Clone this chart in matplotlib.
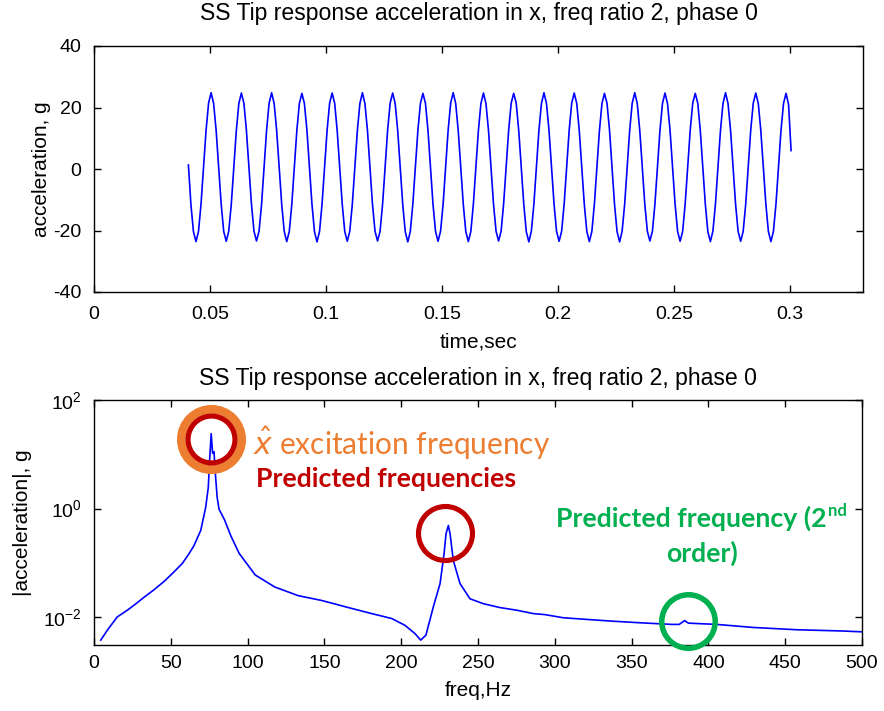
import numpy as np
import matplotlib
matplotlib.use("Agg")
import matplotlib.pyplot as plt
from matplotlib.ticker import FixedLocator, FuncFormatter, NullLocator

# ---------------- data ----------------
# time-domain tip acceleration, g (sampled from t_start with step t_step)
t_start = 0.0407
t_step = 0.001087
accel_g = [
    1.3, -11.6, -20.4, -23.6, -20.3, -11.4, 0.6, 12.6, 21.4, 24.8, 21.3, 12.5,
    0.5, -11.5, -20.3, -23.5, -20.2, -11.5, 0.5, 12.5, 21.3, 24.7, 21.4, 12.6,
    0.6, -11.4, -20.2, -23.4, -20.3, -11.6, 0.5, 12.6, 21.4, 24.8, 21.3, 12.5,
    0.5, -11.5, -20.3, -23.6, -20.3, -11.5, 0.6, 12.5, 21.3, 24.6, 21.3, 12.6,
    0.6, -11.5, -20.4, -23.7, -20.3, -11.4, 0.5, 12.6, 21.4, 24.7, 21.4, 12.5,
    0.5, -11.4, -20.3, -23.5, -20.2, -11.5, 0.6, 12.5, 21.3, 24.8, 21.3, 12.6,
    0.6, -11.5, -20.2, -23.4, -20.3, -11.5, 0.5, 12.6, 21.4, 24.7, 21.3, 12.5,
    0.5, -11.6, -20.4, -23.7, -20.3, -11.4, 0.6, 12.5, 21.3, 24.6, 21.4, 12.6,
    0.6, -11.5, -20.3, -23.5, -20.2, -11.5, 0.5, 12.6, 21.4, 24.8, 21.3, 12.5,
    0.5, -11.4, -20.3, -23.6, -20.3, -11.5, 0.6, 12.5, 21.3, 24.7, 21.3, 12.6,
    0.6, -11.5, -20.2, -23.4, -20.3, -11.4, 0.5, 12.6, 21.4, 24.6, 21.4, 12.5,
    0.5, -11.5, -20.4, -23.7, -20.2, -11.5, 0.6, 12.5, 21.3, 24.8, 21.3, 12.6,
    0.6, -11.4, -20.3, -23.5, -20.3, -11.5, 0.5, 12.6, 21.4, 24.7, 21.3, 12.5,
    0.5, -11.5, -20.3, -23.6, -20.3, -11.4, 0.6, 12.5, 21.3, 24.6, 21.4, 12.6,
    0.6, -11.6, -20.4, -23.7, -20.2, -11.5, 0.5, 12.6, 21.4, 24.8, 21.3, 12.5,
    0.5, -11.5, -20.2, -23.4, -20.3, -11.5, 0.6, 12.5, 21.3, 24.7, 21.3, 12.6,
    0.6, -11.4, -20.3, -23.5, -20.3, -11.4, 0.5, 12.6, 21.4, 24.6, 21.4, 12.5,
    0.5, -11.5, -20.4, -23.6, -20.2, -11.5, 0.6, 12.5, 21.3, 24.8, 21.3, 12.6,
    0.6, -11.5, -20.3, -23.5, -20.3, -11.5, 0.5, 12.6, 21.4, 24.7, 21.3, 12.5,
    0.5, -11.4, -20.3, -23.6, -20.3, -11.5, 0.6, 12.5, 21.3, 24.6, 21.0, 6.0,
]

# spectrum magnitude, g
freq_hz = [4.4, 8.7, 15.2, 21.7, 27.0, 32.6, 39.0, 45.6, 51.5, 57.5, 62.0, 65.1,
           69.5, 72.7, 74.4, 75.3, 76.3, 77.2, 78.1, 79.2, 80.2, 81.4, 85.0, 89.0,
           94.5, 105.0, 117.8, 133.0, 148.2, 165.6, 180.8, 193.8, 202.5, 209.0,
           212.7, 216.1, 220.9, 225.3, 227.9, 229.2, 230.7, 231.8, 233.9, 238.3,
           244.8, 253.5, 264.3, 275.2, 286.0, 293.6, 305.6, 321.8, 337.0, 356.5,
           376.0, 381.0, 384.5, 387.0, 405.3, 429.2, 457.5, 486.8, 500.0]
spec_g = [0.0038, 0.0058, 0.0102, 0.0135, 0.0175, 0.0234, 0.032, 0.0457, 0.066,
          0.098, 0.15, 0.209, 0.398, 1.05, 2.45, 8.1, 24.0, 10.5, 11.2, 3.7, 1.6,
          0.98, 0.62, 0.32, 0.15, 0.060, 0.036, 0.025, 0.0204, 0.0151, 0.0117,
          0.0095, 0.0071, 0.0050, 0.0038, 0.0047, 0.0155, 0.0417, 0.148, 0.347,
          0.49, 0.347, 0.112, 0.0417, 0.0219, 0.0178, 0.0151, 0.0135, 0.0117,
          0.0112, 0.0098, 0.0091, 0.0085, 0.0079, 0.0074, 0.0074, 0.0087, 0.0078,
          0.0074, 0.0065, 0.0059, 0.0056, 0.0054]

time_ticks = [0, 0.05, 0.1, 0.15, 0.2, 0.25, 0.3]
accel_ticks = [-40, -20, 0, 20, 40]
freq_ticks = [0, 50, 100, 150, 200, 250, 300, 350, 400, 450, 500]
spec_ticks = [1e-2, 1e0, 1e2]

title_txt = "SS Tip response acceleration in x, freq ratio 2, phase 0"

# annotation circle centres (data coords)
exc_center = (76.2, 19.0)
pred2_center = (228.8, 0.35)
second_center = (386.4, 0.00845)

# ---------------- figure ----------------
W, H = 884, 711
plt.rcParams['font.family'] = ['Liberation Sans', 'DejaVu Sans']
plt.rcParams['axes.unicode_minus'] = False
fig = plt.figure(figsize=(W / 100, H / 100), dpi=100)


def fx(px):
    return px / W


def fy(py):
    return 1 - py / H


axfont = 15
tickfont = 14
titlefont = 16.6

ax1 = fig.add_axes([fx(94), fy(292), fx(863) - fx(94), fy(46) - fy(292)])
ax2 = fig.add_axes([fx(94), fy(645), fx(862) - fx(94), fy(400) - fy(645)])

t = t_start + t_step * np.arange(len(accel_g))
ax1.plot(t, accel_g, color='#0000FF', lw=1.2)
ax1.set_xlim(0, 0.3315)
ax1.set_ylim(-40, 40)
ax1.xaxis.set_major_locator(FixedLocator(time_ticks))
ax1.xaxis.set_major_formatter(FuncFormatter(lambda v, p: f"{v:g}"))
ax1.yaxis.set_major_locator(FixedLocator(accel_ticks))
ax1.set_title(title_txt, fontsize=titlefont, pad=19)
ax1.set_xlabel("time,sec", fontsize=axfont)
ax1.set_ylabel("acceleration, g", fontsize=axfont)
ax1.xaxis.set_label_coords(0.5, -(333 - 292) / 246)
ax1.yaxis.set_label_coords((51 - 94) / 769, 0.5)

ax2.plot(freq_hz, spec_g, color='#0000FF', lw=1.2)
ax2.set_yscale('log')
ax2.set_xlim(0, 500)
ax2.set_ylim(10 ** -2.51, 100)
ax2.xaxis.set_major_locator(FixedLocator(freq_ticks))
ax2.yaxis.set_major_locator(FixedLocator(spec_ticks))
ax2.yaxis.set_minor_locator(NullLocator())
ax2.set_title(title_txt, fontsize=titlefont, pad=11)
ax2.set_xlabel("freq,Hz", fontsize=axfont)
ax2.set_ylabel("|acceleration|, g", fontsize=axfont)
ax2.xaxis.set_label_coords(0.5, -(681 - 645) / 245)
ax2.yaxis.set_label_coords((32 - 94) / 768, 0.5)

for ax in (ax1, ax2):
    ax.tick_params(which='both', direction='in', top=True, right=True,
                   length=5, width=1, labelsize=tickfont)
    ax.tick_params(axis='y', pad=9)
    for s in ax.spines.values():
        s.set_linewidth(1.0)
ax1.tick_params(axis='x', pad=10)
ax2.tick_params(axis='x', pad=7)

# annotation circles (ring markers at data points)
ax2.plot(*exc_center, marker='o', ms=43.5, mfc='none', mec='#ED7D31', mew=6.2,
         clip_on=False, zorder=5)
ax2.plot(*exc_center, marker='o', ms=33.8, mfc='none', mec='#C00000', mew=3.7,
         clip_on=False, zorder=6)
ax2.plot(*pred2_center, marker='o', ms=38.9, mfc='none', mec='#C00000', mew=3.7,
         clip_on=False, zorder=6)
ax2.plot(*second_center, marker='o', ms=38.5, mfc='none', mec='#00B050', mew=4.0,
         clip_on=False, zorder=6)

# annotation texts
afam = ['Lato', 'DejaVu Sans']
fig.text(fx(253), fy(443), r"$\hat{x}$ excitation frequency", color='#ED7D31',
         fontsize=21.5, family=afam, ha='left', va='center')
fig.text(fx(256), fy(479), "Predicted frequencies", color='#C00000',
         fontsize=19.2, fontweight='bold', family=afam, ha='left', va='center')
g1 = fig.text(fx(556), fy(518), "Predicted frequency (2", color='#00B050',
              fontsize=19.2, fontweight='bold', family=afam, ha='left',
              va='center')
fig.canvas.draw()
bb = g1.get_window_extent()
fig.text(bb.x1 / W + fx(1), bb.y1 / H + 0.003, "nd", color='#00B050',
         fontsize=12, fontweight='bold', family=afam, ha='left', va='top')
fig.text(fx(702), fy(553), "order)", color='#00B050', fontsize=19.2,
         fontweight='bold', family=afam, ha='center', va='center')

fig.savefig("out.png", dpi=100)
